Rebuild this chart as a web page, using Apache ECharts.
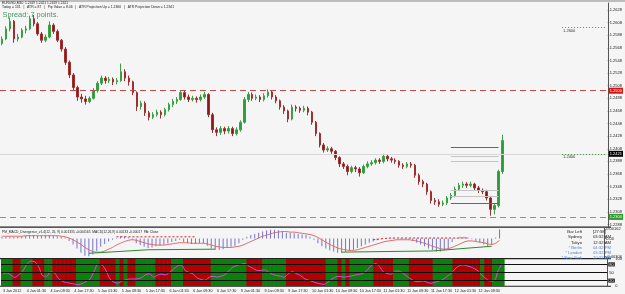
<!DOCTYPE html>
<html><head><meta charset="utf-8">
<script src="https://cdn.jsdelivr.net/npm/echarts@6/dist/echarts.min.js"></script>
<style>html,body{margin:0;padding:0;background:#f5f5f5;}#c{width:625px;height:294px;}</style>
</head><body><div id="c"></div>
<script>
// ---------- data ----------
const timeLabels = ['3 Jan 2012','4 Jan 01:30','4 Jan 09:30','4 Jan 17:30','5 Jan 01:30','5 Jan 09:30','5 Jan 17:30',
  '6 Jan 01:30','6 Jan 09:30','6 Jan 17:30','9 Jan 01:30','9 Jan 09:30','9 Jan 17:30','10 Jan 01:30','10 Jan 09:30',
  '10 Jan 17:30','11 Jan 01:30','11 Jan 09:30','11 Jan 17:30','12 Jan 01:30','12 Jan 09:30'];
const barsPerLabel = 6;
const slotCount = 153;

// [open, close, low, high]
const candles = [
[1.2575,1.2582,1.2572,1.2586],[1.2582,1.2598,1.2580,1.2602],[1.2598,1.2610,1.2594,1.2616],[1.2610,1.2582,1.2576,1.2612],
[1.2582,1.2585,1.2578,1.2590],[1.2585,1.2596,1.2583,1.2599],[1.2596,1.2598,1.2591,1.2603],[1.2598,1.2614,1.2596,1.2619],
[1.2614,1.2606,1.2602,1.2620],[1.2606,1.2590,1.2587,1.2609],[1.2590,1.2580,1.2576,1.2593],[1.2580,1.2585,1.2577,1.2589],
[1.2585,1.2604,1.2583,1.2610],[1.2604,1.2594,1.2590,1.2607],[1.2594,1.2580,1.2577,1.2597],[1.2580,1.2566,1.2562,1.2582],
[1.2566,1.2545,1.2541,1.2569],[1.2545,1.2525,1.2520,1.2548],[1.2525,1.2505,1.2500,1.2528],[1.2505,1.2490,1.2484,1.2508],
[1.2490,1.2487,1.2481,1.2495],[1.2487,1.2483,1.2478,1.2492],[1.2483,1.2488,1.2480,1.2491],[1.2488,1.2500,1.2486,1.2504],
[1.2500,1.2512,1.2497,1.2515],[1.2512,1.2520,1.2509,1.2524],[1.2520,1.2516,1.2511,1.2523],[1.2516,1.2518,1.2512,1.2522],
[1.2518,1.2514,1.2509,1.2521],[1.2514,1.2516,1.2510,1.2520],[1.2516,1.2530,1.2514,1.2543],[1.2530,1.2520,1.2515,1.2534],
[1.2520,1.2514,1.2508,1.2524],[1.2514,1.2497,1.2493,1.2516],[1.2497,1.2475,1.2468,1.2499],[1.2475,1.2480,1.2470,1.2484],
[1.2480,1.2465,1.2460,1.2483],[1.2465,1.2458,1.2453,1.2468],[1.2458,1.2462,1.2455,1.2466],[1.2462,1.2466,1.2459,1.2470],
[1.2466,1.2462,1.2456,1.2469],[1.2462,1.2470,1.2459,1.2473],[1.2470,1.2478,1.2467,1.2481],[1.2478,1.2483,1.2474,1.2487],
[1.2483,1.2486,1.2479,1.2490],[1.2486,1.2497,1.2484,1.2501],[1.2497,1.2490,1.2486,1.2500],[1.2490,1.2486,1.2482,1.2494],
[1.2486,1.2488,1.2483,1.2492],[1.2488,1.2486,1.2481,1.2491],[1.2486,1.2490,1.2483,1.2494],[1.2490,1.2494,1.2487,1.2498],
[1.2494,1.2462,1.2458,1.2496],[1.2462,1.2438,1.2433,1.2465],[1.2438,1.2434,1.2428,1.2442],[1.2434,1.2440,1.2430,1.2444],
[1.2440,1.2436,1.2431,1.2443],[1.2436,1.2440,1.2432,1.2444],[1.2440,1.2432,1.2428,1.2443],[1.2432,1.2438,1.2429,1.2442],
[1.2438,1.2450,1.2435,1.2453],[1.2450,1.2486,1.2448,1.2490],[1.2486,1.2494,1.2482,1.2498],[1.2494,1.2488,1.2484,1.2497],
[1.2488,1.2490,1.2485,1.2494],[1.2490,1.2486,1.2482,1.2493],[1.2486,1.2492,1.2483,1.2496],[1.2492,1.2498,1.2489,1.2502],
[1.2498,1.2490,1.2486,1.2501],[1.2490,1.2484,1.2480,1.2493],[1.2484,1.2474,1.2470,1.2486],[1.2474,1.2468,1.2463,1.2477],
[1.2468,1.2455,1.2450,1.2470],[1.2455,1.2474,1.2453,1.2478],[1.2474,1.2472,1.2467,1.2477],[1.2472,1.2469,1.2465,1.2475],
[1.2469,1.2472,1.2466,1.2476],[1.2472,1.2466,1.2461,1.2475],[1.2466,1.2450,1.2446,1.2468],[1.2450,1.2432,1.2428,1.2452],
[1.2432,1.2414,1.2410,1.2434],[1.2414,1.2406,1.2402,1.2417],[1.2406,1.2408,1.2403,1.2412],[1.2408,1.2404,1.2400,1.2411],
[1.2404,1.2394,1.2390,1.2406],[1.2394,1.2384,1.2379,1.2396],[1.2384,1.2380,1.2376,1.2387],[1.2380,1.2372,1.2366,1.2383],
[1.2372,1.2378,1.2369,1.2381],[1.2378,1.2376,1.2371,1.2381],[1.2376,1.2370,1.2364,1.2379],[1.2370,1.2380,1.2368,1.2383],
[1.2380,1.2384,1.2377,1.2388],[1.2384,1.2386,1.2381,1.2390],[1.2386,1.2390,1.2383,1.2393],[1.2390,1.2388,1.2384,1.2393],
[1.2388,1.2396,1.2385,1.2400],[1.2396,1.2392,1.2388,1.2399],[1.2392,1.2390,1.2386,1.2395],[1.2390,1.2388,1.2384,1.2393],
[1.2388,1.2382,1.2378,1.2390],[1.2382,1.2380,1.2376,1.2385],[1.2380,1.2384,1.2377,1.2387],[1.2384,1.2382,1.2378,1.2387],
[1.2382,1.2366,1.2362,1.2384],[1.2366,1.2356,1.2351,1.2369],[1.2356,1.2352,1.2347,1.2359],[1.2352,1.2340,1.2335,1.2354],
[1.2340,1.2326,1.2321,1.2342],[1.2326,1.2324,1.2319,1.2330],[1.2324,1.2320,1.2316,1.2328],[1.2320,1.2322,1.2317,1.2326],
[1.2322,1.2330,1.2319,1.2333],[1.2330,1.2334,1.2327,1.2338],[1.2334,1.2344,1.2331,1.2348],[1.2344,1.2350,1.2341,1.2354],
[1.2350,1.2352,1.2346,1.2356],[1.2352,1.2350,1.2346,1.2355],[1.2350,1.2352,1.2347,1.2356],[1.2352,1.2346,1.2342,1.2354],
[1.2346,1.2342,1.2338,1.2349],[1.2342,1.2340,1.2336,1.2345],[1.2340,1.2330,1.2326,1.2343],[1.2330,1.2312,1.2302,1.2332],
[1.2312,1.2318,1.2304,1.2321],[1.2318,1.2372,1.2315,1.2375],[1.2372,1.2421,1.2368,1.2430]
];

const macdHist = [
0.0003,0.0003,0.0003,0.0003,0.0003,
0.0004,0.0005,0.0006,0.0006,0.0005,0.0005,
0.0006,0.0006,0.0005,0.0004,0.0003,0.0002,
-0.0004,-0.0010,-0.0017,-0.0024,-0.0029,-0.0030,-0.0027,-0.0021,-0.0014,-0.0009,-0.0005,-0.0002,
0.0001,0.0004,0.0004,0.0002,-0.0002,
-0.0008,-0.0011,-0.0014,-0.0016,-0.0015,-0.0013,-0.0012,-0.0010,-0.0008,-0.0006,-0.0004,-0.0002,
-0.0006,-0.0008,-0.0009,-0.0009,-0.0008,-0.0008,
-0.0012,-0.0017,-0.0019,-0.0019,-0.0018,-0.0016,-0.0014,-0.0012,-0.0008,
-0.0002,0.0003,0.0006,0.0008,0.0010,0.0012,0.0014,0.0015,0.0015,0.0014,0.0012,0.0010,
0.0010,0.0009,0.0008,0.0007,0.0006,0.0003,
-0.0002,-0.0008,-0.0013,-0.0017,-0.0020,-0.0022,-0.0024,-0.0024,-0.0023,-0.0021,-0.0019,
-0.0016,-0.0013,-0.0010,-0.0007,-0.0005,-0.0003,-0.0001,0.0000,0.0001,0.0001,
0.0000,-0.0001,-0.0001,-0.0002,-0.0004,-0.0007,-0.0010,-0.0013,-0.0017,-0.0020,-0.0022,-0.0022,-0.0020,-0.0017,
-0.0006,0.0001,0.0003,0.0003,0.0002,-0.0001,-0.0004,-0.0007,-0.0010,-0.0013,-0.0011,0.0002,0.0016
];

const macdSignal = [
0.0004,0.0004,0.0004,0.0004,0.0004,
0.0004,0.0005,0.0005,0.0005,0.0005,0.0005,
0.0005,0.0005,0.0005,0.0005,0.0004,0.0003,
0.0001,-0.0002,-0.0006,-0.0010,-0.0015,-0.0019,-0.0022,-0.0023,
-0.0023,-0.0021,-0.0018,-0.0015,-0.0011,-0.0008,-0.0005,-0.0003,-0.0002,
-0.0003,-0.0005,-0.0007,-0.0009,-0.0010,-0.0011,-0.0011,-0.0011,-0.0010,-0.0009,-0.0008,-0.0007,
-0.0007,-0.0007,-0.0008,-0.0008,-0.0008,-0.0008,
-0.0009,-0.0011,-0.0013,-0.0014,-0.0015,-0.0015,-0.0015,-0.0014,-0.0013,
-0.0011,-0.0008,-0.0005,-0.0002,0.0001,0.0004,0.0006,0.0008,0.0010,0.0011,0.0012,0.0012,
0.0011,0.0011,0.0010,0.0009,0.0008,0.0007,
0.0005,0.0002,-0.0002,-0.0006,-0.0010,-0.0013,-0.0016,-0.0018,-0.0019,-0.0020,-0.0020,
-0.0019,-0.0017,-0.0015,-0.0013,-0.0011,-0.0009,-0.0007,-0.0005,-0.0004,-0.0003,
-0.0002,-0.0002,-0.0002,-0.0002,-0.0003,-0.0004,-0.0006,
-0.0008,-0.0010,-0.0013,-0.0015,-0.0017,-0.0018,-0.0017,-0.0015,
-0.0012,-0.0009,-0.0006,-0.0004,-0.0004,-0.0005,-0.0006,-0.0007,-0.0009,-0.0010,-0.0008,-0.0003
];

// divergence lines [barIndex, value]
const divRed1 = [[29,0.0003],[31,0.0003],[49,0.0003]];
const divRed2 = [[94,-0.0002],[98,0.0001],[118,0.0001]];
const divGreen1 = [[22,-0.0025],[37,-0.0019],[54,-0.0018]];
const divGreen2 = [[86,-0.0023],[109,-0.0021],[124,-0.0013]];

const stoch = [
45,48,40,32,42,55,80,92,90,72,38,36,52,48,28,17,13,10,7,5,
9,17,26,55,80,78,57,26,14,11,18,23,26,26,27,31,42,45,33,40,
44,41,50,62,74,78,57,50,44,30,24,21,32,36,33,36,42,56,70,76,
80,84,74,66,58,57,60,52,43,39,36,33,45,53,46,40,28,22,17,12,
8,6,14,26,34,36,33,35,37,41,44,47,60,76,83,72,52,46,44,55,
55,46,35,25,17,16,19,14,10,14,18,24,35,45,62,74,78,75,71,64,
54,38,26,18,20,58,84
];
const bandRuns = [['G',3],['R',2],['G',3],['R',3],['G',2],['R',6],['G',6],['R',3],['R',1],['G',1],['R',1],['G',1],
  ['R',2],['G',5],['R',4],['G',3],['R',7],['G',9],['R',4],['G',6],['R',10],['G',3],['R',1],['G',1],['R',1],
  ['G',6],['R',5],['G',4],['R',6],['G',5],['R',7],['G',1],['R',2],['G',3]];

const priceTicks = [1.2628,1.2608,1.2588,1.2568,1.2548,1.2528,1.2508,1.2488,1.2468,1.2448,1.2428,1.2408,
  1.2388,1.2368,1.2348,1.2328,1.2308,1.2288];
const priceMin = 1.2284, priceMax = 1.2639;
const roundLevels = [1.2600, 1.2500, 1.2400, 1.2300];
const bidPrice = 1.2421;
const atrDark = [1.2410, 1.2321];
const atrLight = [1.2396, 1.2388, 1.2343, 1.2333];
const macdTicks = [0.00162, 0, -0.00306];
const macdTickText = ['0.00162', '0.00', '-0.00306'];
const stochLevels = [80, 50, 20];
const stochTicks = [100, 0];

// ---------- build ----------
const cats = [];
for (let i = 0; i < slotCount; i++) cats.push(String(i));
const labelFor = i => (i % barsPerLabel === 0 && i / barsPerLabel < timeLabels.length) ? timeLabels[i / barsPerLabel] : '';
const bandData = [];
bandRuns.forEach(([c, n]) => { for (let k = 0; k < n; k++) bandData.push({value: 100, itemStyle: {color: c === 'G' ? '#0b800b' : '#b00000'}}); });

const FF = 'Liberation Sans, Arial, sans-serif';
const tiny = {fontFamily: FF, fontSize: 4, color: '#222'};

const chart = echarts.init(document.getElementById('c'), null, {renderer: 'canvas'});

const hideX = {type: 'category', data: cats, boundaryGap: true, axisLine: {show: false}, axisTick: {show: false}, axisLabel: {show: false}, splitLine: {show: false}};

const segLabel = (txt) => ({show: true, position: 'insideStartBottom', formatter: txt, color: '#333', fontSize: 4, fontFamily: FF, distance: 1});

const mainMarks = [
  {yAxis: roundLevels[1], lineStyle: {color: '#c84848', type: [6, 4], width: 1},
   label: {show: true, position: 'end', formatter: '1.2500', backgroundColor: '#d41414', color: '#fff', fontSize: 4, fontFamily: FF, padding: [1, 1], distance: 1}},
  {yAxis: roundLevels[3], lineStyle: {color: '#6aaa6a', type: [6, 4], width: 1},
   label: {show: true, position: 'end', formatter: '1.2300', backgroundColor: '#2c9a2c', color: '#fff', fontSize: 4, fontFamily: FF, padding: [1, 1], distance: 1}},
  {yAxis: bidPrice, lineStyle: {color: '#d8d8d8', type: 'solid', width: 1},
   label: {show: true, position: 'end', formatter: '1.2421', backgroundColor: '#000', color: '#fff', fontSize: 4, fontFamily: FF, padding: [1, 1], distance: 1}},
  [{coord: [141, roundLevels[0]], lineStyle: {color: '#4a9a4a', type: [1, 2], width: 1}, label: segLabel('1.2600')}, {coord: [152, roundLevels[0]]}],
  [{coord: [141, roundLevels[1]], lineStyle: {opacity: 0}, label: segLabel('1.2500')}, {coord: [152, roundLevels[1]]}],
  [{coord: [141, roundLevels[2]], lineStyle: {color: '#4a9a4a', type: [1, 2], width: 1}, label: segLabel('1.2400')}, {coord: [152, roundLevels[2]]}],
  [{coord: [141, roundLevels[3]], lineStyle: {opacity: 0}, label: segLabel('1.2300')}, {coord: [152, roundLevels[3]]}]
];
atrDark.forEach(v => mainMarks.push([{coord: [113, v], lineStyle: {color: '#666', type: 'solid', width: 1}, label: {show: false}}, {coord: [125, v]}]));
atrLight.forEach(v => mainMarks.push([{coord: [113, v], lineStyle: {color: '#c4c4c4', type: 'solid', width: 1}, label: {show: false}}, {coord: [125, v]}]));

const stochMarks = stochLevels.map(v => ({yAxis: v, lineStyle: {color: '#111', type: 'solid', width: 1},
  label: {show: true, position: 'end', formatter: String(v), backgroundColor: v === 50 ? 'transparent' : '#111',
    color: v === 50 ? '#111' : '#fff', fontSize: 4, fontFamily: FF, padding: [0, 1], distance: 1}}));

const divSeries = (data, color, dashed, sym) => ({
  type: 'line', xAxisIndex: 1, yAxisIndex: 1, data, symbol: sym, symbolSize: 3, showSymbol: true,
  itemStyle: {color}, lineStyle: {color, width: 1, type: dashed ? [2, 2] : 'solid'}, z: 5, silent: true
});

const option = {
  backgroundColor: '#f5f5f5',
  animation: false,
  textStyle: {fontFamily: FF},
  grid: [
    {left: 0, width: 611, top: 3, height: 224},
    {left: 0, width: 611, top: 228, height: 30},
    {left: 0, width: 611, top: 259, height: 27}
  ],
  xAxis: [
    Object.assign({gridIndex: 0}, hideX),
    Object.assign({gridIndex: 1}, hideX),
    {gridIndex: 2, type: 'category', data: cats, boundaryGap: true,
     axisLine: {show: false}, axisTick: {show: false}, splitLine: {show: false},
     axisLabel: {show: true, interval: 0, formatter: (v, i) => labelFor(Number(v)), align: 'left', margin: 2.5,
       fontSize: 3.7, fontFamily: FF, color: '#222'}}
  ],
  yAxis: [
    {gridIndex: 0, type: 'value', position: 'right', min: priceMin, max: priceMax, splitLine: {show: false},
     axisLine: {show: true, lineStyle: {color: '#555', width: 1}},
     axisTick: {show: true, length: 1.5, customValues: priceTicks, lineStyle: {color: '#555'}},
     axisLabel: Object.assign({customValues: priceTicks, formatter: v => v.toFixed(4), margin: 2}, tiny)},
    {gridIndex: 1, type: 'value', position: 'right', min: -0.0033, max: 0.0018, splitLine: {show: false},
     axisLine: {show: true, lineStyle: {color: '#555', width: 1}},
     axisTick: {show: true, length: 1.5, customValues: macdTicks},
     axisLabel: Object.assign({customValues: macdTicks, formatter: v => macdTickText[macdTicks.indexOf(v)] || '', margin: 2}, tiny)},
    {gridIndex: 2, type: 'value', position: 'right', min: 0, max: 100, splitLine: {show: false},
     axisLine: {show: true, lineStyle: {color: '#555', width: 1}},
     axisTick: {show: false},
     axisLabel: Object.assign({customValues: stochTicks, formatter: v => String(v), margin: 8}, tiny)}
  ],
  series: [
    {type: 'candlestick', xAxisIndex: 0, yAxisIndex: 0, data: candles.map(r => [r[0], r[1], r[2], r[3]]),
     barWidth: 2,
     itemStyle: {color: '#2f9b3a', color0: '#8c1818', borderColor: '#3aa044', borderColor0: '#a03030', borderWidth: 1},
     markLine: {silent: true, symbol: ['none', 'none'], animation: false, data: mainMarks}},
    {type: 'bar', xAxisIndex: 1, yAxisIndex: 1, data: macdHist, barWidth: 1, itemStyle: {color: '#7474cc'}, silent: true},
    {type: 'line', xAxisIndex: 1, yAxisIndex: 1, data: macdSignal, symbol: 'none', smooth: 0.3,
     lineStyle: {color: '#e06a6a', width: 1}, silent: true, z: 4},
    divSeries(divRed1, '#d02020', true, 'triangle'),
    divSeries(divRed2, '#d02020', true, 'triangle'),
    divSeries(divGreen1, '#2a8a2a', false, 'circle'),
    divSeries(divGreen2, '#2a8a2a', false, 'circle'),
    {type: 'bar', xAxisIndex: 2, yAxisIndex: 2, data: bandData, barWidth: 4.6, silent: true, z: 1,
     itemStyle: {borderWidth: 0}},
    {type: 'line', xAxisIndex: 2, yAxisIndex: 2, data: stoch, symbol: 'none', smooth: 0.3,
     lineStyle: {color: '#d84cd8', width: 1}, silent: true, z: 4,
     markLine: {silent: true, symbol: ['none', 'none'], data: stochMarks}}
  ],
  graphic: [
    {type: 'rect', shape: {x: 0, y: 0, width: 625, height: 2}, style: {fill: '#bdbdbd'}, silent: true},
    {type: 'rect', shape: {x: 0, y: 226.5, width: 611, height: 1.2}, style: {fill: '#222'}, silent: true},
    {type: 'rect', shape: {x: 0, y: 258, width: 611, height: 1.2}, style: {fill: '#222'}, silent: true},
    {type: 'rect', shape: {x: 0, y: 285.8, width: 611, height: 1}, style: {fill: '#222'}, silent: true},
    {type: 'text', x: 2, y: 3.2, style: {text: 'EURUSD,M30  1.2419 1.2421 1.2419 1.2421', fontSize: 3.3, fontFamily: FF, fill: '#222', verticalAlign: 'middle'}, silent: true},
    {type: 'text', x: 2, y: 7.4, style: {text: 'Today = 131   |   ATR = 87   |   Pip Value = 8.06   |   ATR Projection Up = 1.2366   |   ATR Projection Down = 1.2341', fontSize: 3.4, fontFamily: FF, fill: '#222', verticalAlign: 'middle'}, silent: true},
    {type: 'text', x: 2.5, y: 15.3, style: {text: 'Spread: 7 points.', fontSize: 7.4, fontFamily: FF, fill: '#3f9a5e', verticalAlign: 'middle'}, silent: true},
    {type: 'text', x: 2, y: 231.8, style: {text: 'PM_MACD_Divergence_v1.4(12, 26, 9) 0.001335 -0.000165  MACD(12,26,9) 0.00133 -0.00017  PA: Close', fontSize: 3.3, fontFamily: FF, fill: '#222', verticalAlign: 'middle'}, silent: true},
    {type: 'group', silent: true, children: [
      ['Bar Left', '[27:58]', '#222', 232],
      ['Sydney', '03:32 AM', '#222', 237.3],
      ['Tokyo', '12:32 AM', '#222', 242.6],
      ['* Berlin', '04:32 PM', '#4f84cc', 247.9],
      ['* London', '03:32 PM', '#4f84cc', 253.2],
      ['* New York', '10:32 AM', '#4f84cc', 258.3]
    ].flatMap(([a, b, col, y]) => [
      {type: 'text', x: 582, y, style: {text: a, fontSize: 4.2, fontFamily: FF, fill: col, align: 'right', verticalAlign: 'middle'}},
      {type: 'text', x: 593, y, style: {text: b, fontSize: 4.2, fontFamily: FF, fill: col, align: 'left', verticalAlign: 'middle'}}
    ])}
  ]
};
chart.setOption(option);
</script>
</body></html>
